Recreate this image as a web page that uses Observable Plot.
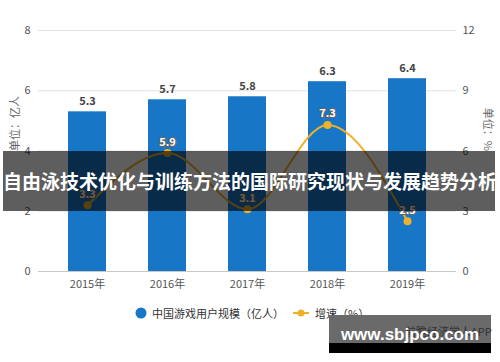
<!DOCTYPE html>
<html><head><meta charset="utf-8">
<script src="https://cdn.jsdelivr.net/npm/d3@7"></script>
<script src="https://cdn.jsdelivr.net/npm/@observablehq/plot@0.6"></script>
<style>
body{margin:0;background:#fff;font-family:"Noto Sans CJK SC","Noto Sans",sans-serif;}
#wrap{position:relative;width:500px;height:362px;overflow:hidden;background:#fff;}
#chart{position:absolute;left:0;top:0;}
#legend{position:absolute;left:0;top:304px;width:500px;height:18px;font-size:11px;color:#333;}
.lg{position:absolute;top:0;line-height:18px;white-space:nowrap;}
#band{position:absolute;left:3px;top:151px;width:492px;height:60px;background:rgba(0,0,0,0.63);}
#title{position:absolute;left:0;top:151px;width:500px;height:60px;line-height:60px;text-align:center;color:#fff;font-weight:bold;font-size:19px;white-space:nowrap;}
#wm{position:absolute;left:329px;top:315px;width:162px;height:28px;background:#6a6a6a;}
#wm2{position:absolute;left:329px;top:343px;width:162px;height:10px;background:#000;}
#wmsub{position:absolute;left:405px;top:323px;font-size:11px;color:#333;white-space:nowrap;}
#wmtext{position:absolute;left:329px;top:316px;width:162px;height:38px;line-height:38px;text-align:center;color:#fff;font-weight:bold;font-size:17px;font-family:"Liberation Sans","DejaVu Sans",sans-serif;white-space:nowrap;}
</style></head><body>
<div id="wrap">
<div id="chart"></div>
<div id="legend"></div>
<div id="band"></div>
<div id="title"></div>
<div id="wm"></div><div id="wm2"></div>
<div id="wmsub">前瞻经济学人APP</div>
<div id="wmtext">www.sbjpco.com</div>
</div>
<script>
const years = ["2015年","2016年","2017年","2018年","2019年"];
const users = [5.3, 5.7, 5.8, 6.3, 6.4];
const growth = [3.3, 5.9, 3.1, 7.3, 2.5];
const leftTicks = [0, 2, 4, 6, 8];
const rightTicks = [0, 3, 6, 9, 12];
const seriesNames = ["中国游戏用户规模（亿人）", "增速（%）"];
const axisTitles = ["单位：亿人", "单位：%"];
const titleText = "自由泳技术优化与训练方法的国际研究现状与发展趋势分析";

const blue = "#1776c6", gold = "#f0b12a";
const data = years.map((y, i) => ({year: y, users: users[i], growth: growth[i]}));
const k = leftTicks[leftTicks.length - 1] / rightTicks[rightTicks.length - 1];
const font = '"Noto Sans CJK SC","Noto Sans",sans-serif';

const plot = Plot.plot({
  width: 500, height: 295,
  marginTop: 30, marginBottom: 24, marginLeft: 38, marginRight: 44,
  style: {fontFamily: font, fontSize: "11px", color: "#555", background: "transparent"},
  x: {domain: years, paddingInner: 0.525, paddingOuter: 0.375},
  y: {domain: [0, 8]},
  marks: [
    Plot.gridY(leftTicks, {stroke: "#e2e2e2", strokeOpacity: 1}),
    Plot.axisY(leftTicks, {anchor: "left", tickSize: 0, tickPadding: 8, label: null}),
    Plot.axisY(leftTicks, {anchor: "right", tickSize: 0, tickPadding: 6, label: null,
      tickFormat: d => rightTicks[leftTicks.indexOf(d)]}),
    Plot.axisX({tickSize: 0, tickPadding: 9, label: null}),
    Plot.barY(data, {x: "year", y: "users", fill: blue}),
    Plot.ruleY([0], {stroke: "#c8c8c8"}),
    Plot.text(data, {x: "year", y: "users", text: d => d.users.toFixed(1), dy: -10,
      fontWeight: "bold", fill: "#444", fontSize: 11}),
    Plot.line(data, {x: "year", y: d => d.growth * k, curve: "monotone-x", stroke: gold, strokeWidth: 2}),
    Plot.dot(data, {x: "year", y: d => d.growth * k, r: 4, fill: gold}),
    Plot.text(data, {x: "year", y: d => d.growth * k, text: d => d.growth.toFixed(1), dy: -11,
      fill: "#fff", stroke: "#666", strokeWidth: 2, paintOrder: "stroke", fontWeight: "bold", fontSize: 11}),
    Plot.text([axisTitles[0]], {frameAnchor: "left", dx: -23, rotate: -90, fill: "#666", fontSize: 11}),
    Plot.text([axisTitles[1]], {frameAnchor: "right", dx: 31, rotate: 90, fill: "#666", fontSize: 11})
  ]
});
document.getElementById("chart").appendChild(plot);

const lg = document.getElementById("legend");
lg.innerHTML =
  `<div class="lg" style="left:135px"><svg width="12" height="18" style="vertical-align:top"><circle cx="6" cy="9" r="5.5" fill="${blue}"/></svg></div>` +
  `<div class="lg" style="left:152px">${seriesNames[0]}</div>` +
  `<div class="lg" style="left:292px"><svg width="18" height="18" style="vertical-align:top"><line x1="1" x2="17" y1="9" y2="9" stroke="${gold}" stroke-width="2"/><circle cx="9" cy="9" r="3.5" fill="${gold}"/></svg></div>` +
  `<div class="lg" style="left:315px">${seriesNames[1]}</div>`;
document.getElementById("title").textContent = titleText;
</script>
</body></html>
